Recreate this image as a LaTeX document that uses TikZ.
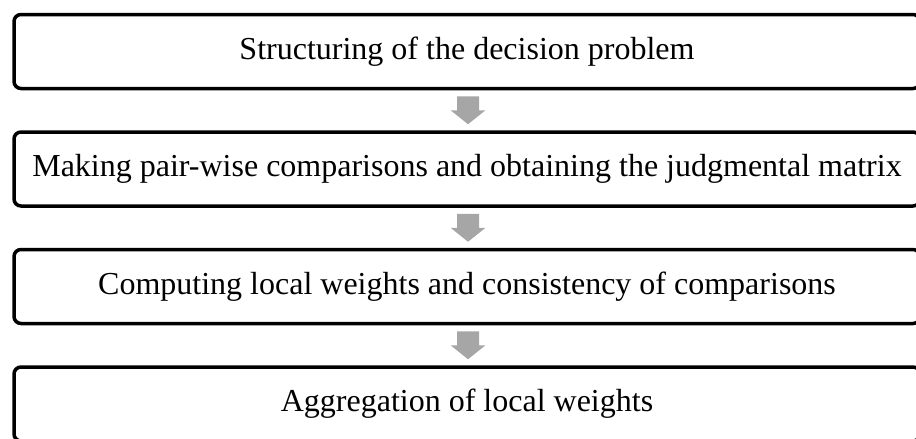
\documentclass[tikz,border=0pt]{standalone}
\usepackage{fontspec}
\setmainfont{Liberation Serif}
\usetikzlibrary{positioning,calc}
\definecolor{arrowgray}{RGB}{166,166,166}
\tikzset{
  stage/.style={
    % The shape:
    rectangle,
    rounded corners=7pt,
    % The size:
    minimum width=906pt,
    minimum height=74pt,
    % The border:
    line width=3.5pt,
    draw=black,
    % The text:
    font=\fontsize{32}{38}\selectfont},
  flow arrow/.style={fill=arrowgray}
}

\begin{document}
\begin{tikzpicture}[x=1pt,y=1pt]
  \useasboundingbox (0,0) rectangle (916,-439);

  % The stages:
  \node (structure) [stage] at (467,-51.5) {Structuring of the decision problem};
  \node (compare)   [stage,below=40pt of structure] {Making pair-wise comparisons and obtaining the judgmental matrix};
  \node (weights)   [stage,below=40pt of compare]   {Computing local weights and consistency of comparisons};
  \node (aggregate) [stage,below=40pt of weights]   {Aggregation of local weights};

  % The arrows between them:
  \foreach \upper/\lower in {structure/compare,compare/weights,weights/aggregate}{
    \coordinate (mid) at ($(\upper.south)!0.5!(\lower.north)+(1,0)$);
    \fill[flow arrow] ($(mid)+(-11,14)$) -- ++(22,0) -- ++(0,-14) -- ++(6.5,0)
      -- ($(mid)+(0,-14)$) -- ($(mid)+(-17.5,0)$) -- ++(6.5,0) -- cycle;
  }
\end{tikzpicture}
\end{document}
